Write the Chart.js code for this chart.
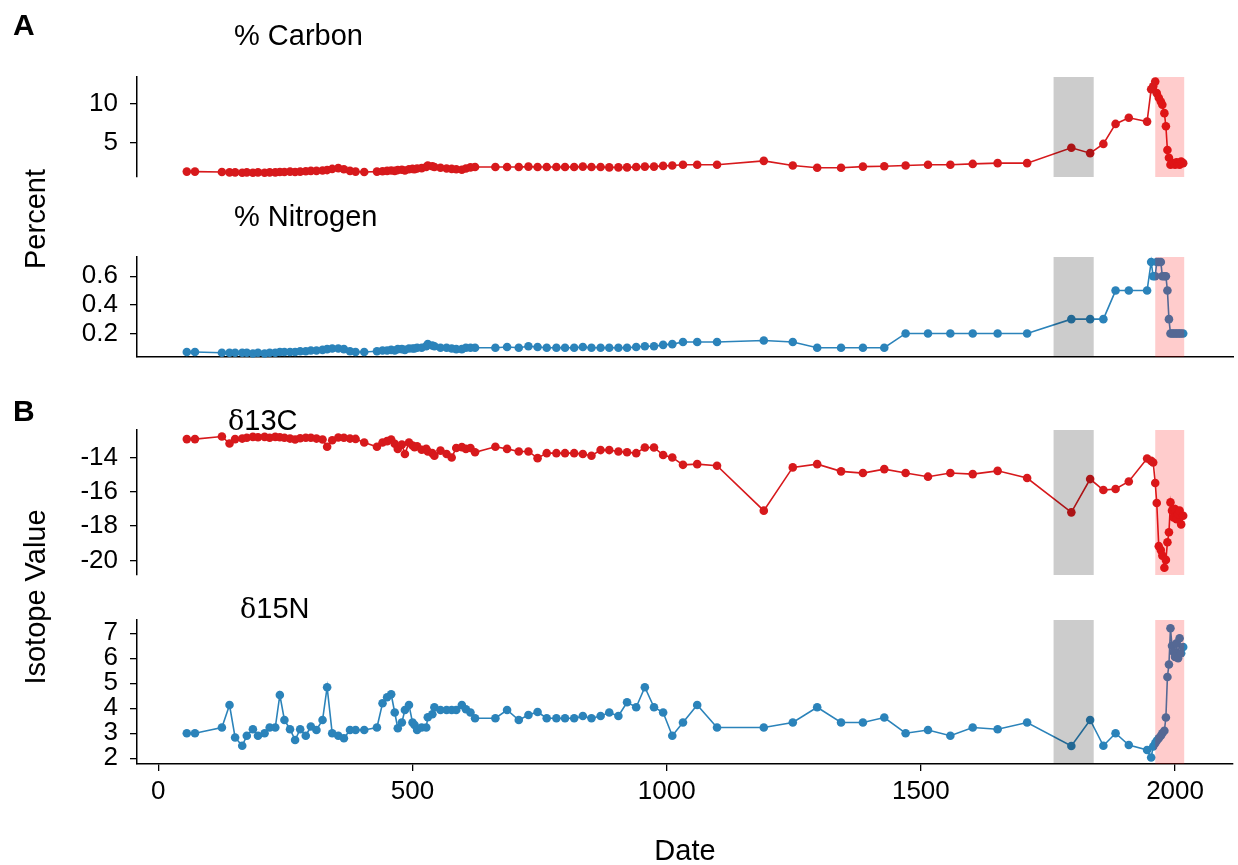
<!DOCTYPE html>
<html>
<head>
<meta charset="utf-8">
<script src="https://cdn.jsdelivr.net/npm/chart.js@4.4.1/dist/chart.umd.min.js"></script>
<style>
  body { margin: 0; background: #fff; }
  #wrap { position: relative; width: 1238px; height: 865px; font-family: "Liberation Sans", Arial, sans-serif; color: #000; }
  canvas { position: absolute; left: 0; top: 0; }
  .lbl { position: absolute; font-size: 29px; line-height: 29px; white-space: nowrap; }
  .tag { font-weight: bold; font-size: 30px; line-height: 30px; }
  .rot { transform: translate(-50%, -50%) rotate(-90deg); }
  .delta { font-family: "DejaVu Serif", "Liberation Serif", serif; font-size: 27px; }
</style>
</head>
<body>
<div id="wrap">
  <canvas id="c1" width="1238" height="865"></canvas>
  <canvas id="c2" width="1238" height="865"></canvas>
  <canvas id="c3" width="1238" height="865"></canvas>
  <canvas id="c4" width="1238" height="865"></canvas>

  <div class="lbl tag" style="left:13px; top:10px;">A</div>
  <div class="lbl tag" style="left:13px; top:396px;">B</div>
  <div class="lbl" style="left:234px; top:21px;">% Carbon</div>
  <div class="lbl" style="left:234px; top:202px;">% Nitrogen</div>
  <div class="lbl" style="left:228px; top:406px;"><span class="delta">δ</span>13C</div>
  <div class="lbl" style="left:240px; top:594px;"><span class="delta">δ</span>15N</div>
  <div class="lbl rot" style="left:35px; top:219px;">Percent</div>
  <div class="lbl rot" style="left:35px; top:597px;">Isotope Value</div>
  <div class="lbl" style="left:685px; top:836px; transform: translateX(-50%);">Date</div>
</div>
<script>
// sample dates (years)
const fechas = [56, 72, 125, 140, 151, 165, 174, 186, 196, 209, 219, 230, 239, 248, 259, 269, 279, 290, 300, 311,
  323, 332, 342, 354, 365, 377, 388, 405, 430, 441, 450, 458, 465, 471, 479, 485, 493, 500, 504, 509,
  518, 527, 530, 539, 543, 555, 567, 577, 586, 597, 605, 614, 623, 663, 686, 709, 728, 746, 764, 783,
  800, 818, 835, 852, 870, 887, 905, 922, 940, 957, 975, 993, 1011, 1032, 1060, 1099, 1191, 1248, 1296, 1343,
  1386, 1428, 1470, 1514, 1558, 1602, 1651, 1709, 1796, 1833, 1859, 1883, 1909,
  1945, 1953, 1957, 1961, 1964, 1968, 1972, 1975, 1979, 1982, 1985, 1988, 1991, 1994, 1997, 2000, 2003, 2006, 2009, 2012, 2016];

const carbono = [1.2, 1.2, 1.15, 1.1, 1.1, 1.05, 1.1, 1.05, 1.1, 1.05, 1.1, 1.1, 1.15, 1.15, 1.2, 1.15, 1.2, 1.25, 1.3, 1.3,
  1.35, 1.4, 1.55, 1.65, 1.5, 1.3, 1.2, 1.15, 1.2, 1.25, 1.3, 1.35, 1.3, 1.4, 1.45, 1.35, 1.5, 1.55, 1.5, 1.6,
  1.65, 1.8, 2.0, 1.9, 1.8, 1.7, 1.6, 1.55, 1.5, 1.45, 1.6, 1.75, 1.8, 1.8, 1.8, 1.8, 1.85, 1.8, 1.8, 1.8,
  1.8, 1.8, 1.85, 1.8, 1.8, 1.75, 1.75, 1.75, 1.8, 1.85, 1.85, 1.95, 2.0, 2.1, 2.1, 2.1, 2.6, 2.0, 1.7, 1.7,
  1.85, 1.9, 2.0, 2.1, 2.1, 2.2, 2.3, 2.3, 4.3, 3.6, 4.8, 7.4, 8.2,
  7.7, 11.9, 12.3, 12.9, 11.4, 10.8, 10.3, 9.9, 8.8, 7.1, 4.0, 3.0, 2.1, 2.2, 2.3, 2.1, 2.4, 2.2, 2.1, 2.5, 2.3];

const nitrogeno = [0.07, 0.07, 0.065, 0.065, 0.065, 0.065, 0.065, 0.06, 0.065, 0.06, 0.065, 0.065, 0.07, 0.07, 0.07, 0.07, 0.075, 0.075, 0.08, 0.08,
  0.085, 0.09, 0.095, 0.095, 0.09, 0.075, 0.07, 0.07, 0.075, 0.08, 0.08, 0.085, 0.08, 0.09, 0.09, 0.085, 0.095, 0.095, 0.095, 0.1,
  0.1, 0.11, 0.125, 0.115, 0.11, 0.1, 0.1, 0.095, 0.09, 0.09, 0.1, 0.1, 0.1, 0.1, 0.105, 0.1, 0.11, 0.105, 0.1, 0.1,
  0.1, 0.1, 0.105, 0.1, 0.1, 0.1, 0.1, 0.1, 0.105, 0.11, 0.11, 0.12, 0.125, 0.14, 0.14, 0.14, 0.15, 0.14, 0.1, 0.1,
  0.1, 0.1, 0.2, 0.2, 0.2, 0.2, 0.2, 0.2, 0.3, 0.3, 0.3, 0.5, 0.5,
  0.5, 0.7, 0.6, 0.6, 0.7, 0.7, 0.7, 0.6, 0.6, 0.6, 0.5, 0.3, 0.2, 0.2, 0.2, 0.2, 0.2, 0.2, 0.2, 0.2, 0.2];

const d13C = [-12.93, -12.93, -12.78, -13.19, -12.93, -12.9, -12.85, -12.8, -12.82, -12.8, -12.85, -12.8, -12.82, -12.85, -12.9, -12.95, -12.88, -12.85, -12.85, -12.9,
  -12.95, -13.38, -13.0, -12.84, -12.85, -12.9, -12.92, -13.13, -13.38, -13.13, -13.05, -12.95, -13.2, -13.5, -13.25, -13.8, -13.13, -13.3, -13.4, -13.35,
  -13.55, -13.5, -13.65, -13.75, -13.9, -13.6, -13.8, -14.0, -13.45, -13.4, -13.5, -13.45, -13.7, -13.38, -13.5, -13.65, -13.65, -14.04, -13.75, -13.75,
  -13.75, -13.75, -13.8, -13.9, -13.57, -13.57, -13.65, -13.7, -13.75, -13.42, -13.42, -13.86, -14.0, -14.43, -14.39, -14.48, -17.1, -14.58, -14.39, -14.81,
  -14.91, -14.68, -14.91, -15.12, -14.91, -14.97, -14.78, -15.2, -17.2, -15.26, -15.9, -15.84, -15.4,
  -14.06, -14.2, -14.29, -15.49, -16.65, -19.17, -19.4, -19.72, -20.43, -19.97, -18.94, -18.36, -16.62, -17.1, -17.5, -17.0, -17.6, -17.3, -17.1, -17.9, -17.4];

const d15N = [3.0, 3.0, 3.23, 4.13, 2.83, 2.5, 2.9, 3.16, 2.9, 3.0, 3.23, 3.23, 4.53, 3.53, 3.16, 2.73, 3.16, 2.9, 3.27, 3.13,
  3.53, 4.84, 3.0, 2.9, 2.8, 3.13, 3.13, 3.13, 3.23, 4.2, 4.44, 4.56, 3.83, 3.2, 3.43, 3.93, 4.13, 3.43, 3.33, 3.13,
  3.23, 3.23, 3.64, 3.76, 4.04, 3.93, 3.93, 3.93, 3.93, 4.13, 3.96, 3.83, 3.6, 3.6, 3.93, 3.53, 3.73, 3.85, 3.6, 3.6,
  3.6, 3.6, 3.69, 3.6, 3.69, 3.83, 3.69, 4.24, 4.04, 4.84, 4.04, 3.83, 2.9, 3.43, 4.13, 3.23, 3.23, 3.43, 4.04, 3.43,
  3.43, 3.63, 3.0, 3.13, 2.9, 3.23, 3.16, 3.43, 2.49, 3.53, 2.5, 3.0, 2.53,
  2.33, 2.03, 2.47, 2.6, 2.7, 2.8, 2.9, 3.0, 3.1, 3.63, 5.25, 5.75, 7.2, 6.5, 6.25, 6.05, 6.6, 6.0, 6.8, 6.2, 6.45];

// shaded periods
const bandaGris = [1761, 1840];
const bandaRosa = [1961, 2018];

const xTicks = [0, 500, 1000, 1500, 2000];
const rojo = '#d7191c';
const azul = '#2b83ba';

Chart.defaults.font.family = '"Liberation Sans", Arial, sans-serif';
Chart.defaults.font.size = 26;
Chart.defaults.color = '#000';

const bandas = {
  id: 'bandas',
  afterDatasetsDraw(chart) {
    const { ctx, chartArea, scales } = chart;
    const alto = chartArea.bottom - chartArea.top;
    ctx.save();
    let a = scales.x.getPixelForValue(bandaGris[0]);
    let b = scales.x.getPixelForValue(bandaGris[1]);
    ctx.fillStyle = 'rgba(0,0,0,0.2)';
    ctx.fillRect(a, chartArea.top, b - a, alto);
    a = scales.x.getPixelForValue(bandaRosa[0]);
    b = scales.x.getPixelForValue(bandaRosa[1]);
    ctx.fillStyle = 'rgba(255,0,0,0.2)';
    ctx.fillRect(a, chartArea.top, b - a, alto);
    ctx.restore();
  }
};

function crearPanel(canvas, valores, color, yMin, yMax, yTicks, top, bottom, ejeX) {
  const ctx = document.getElementById(canvas).getContext('2d');
  const puntos = fechas.map((f, i) => ({ x: f, y: valores[i] }));
  let xScale = { type: 'linear', min: -42, max: 2114, display: false };
  if (ejeX === 'line') {
    xScale = {
      type: 'linear', min: -42, max: 2114,
      ticks: { display: false },
      grid: { display: false },
      border: { display: true, color: '#000', width: 1.5 },
      afterFit: (s) => { s.height = 0; }
    };
  }
  if (ejeX === 'full') {
    xScale = {
      type: 'linear', min: -42, max: 2114,
      afterBuildTicks: (s) => { s.ticks = xTicks.map(v => ({ value: v })); },
      ticks: { padding: 5, maxRotation: 0, autoSkip: false, callback: (v) => String(v) },
      grid: { drawOnChartArea: false, drawTicks: true, tickLength: 7, color: '#000', lineWidth: 1.3 },
      border: { display: true, color: '#000', width: 1.5 },
      afterFit: (s) => { s.height = 865 - bottom; }
    };
  }
  new Chart(ctx, {
    type: 'line',
    data: {
      datasets: [{
        data: puntos,
        borderColor: color,
        backgroundColor: color,
        borderWidth: 1.6,
        pointRadius: 4.3,
        pointBorderWidth: 0,
        pointBackgroundColor: color,
        tension: 0,
        clip: false
      }]
    },
    options: {
      responsive: false,
      animation: false,
      devicePixelRatio: 1,
      events: [],
      layout: { padding: { top: top, bottom: ejeX === 'full' ? 0 : 865 - bottom, left: 0, right: 5 } },
      plugins: { legend: { display: false }, tooltip: { enabled: false } },
      scales: {
        x: xScale,
        y: {
          type: 'linear', min: yMin, max: yMax,
          afterBuildTicks: (s) => { s.ticks = yTicks.map(v => ({ value: v })); },
          afterFit: (s) => { s.width = 137; },
          ticks: { padding: 12, autoSkip: false, callback: (v) => String(v) },
          grid: { drawOnChartArea: false, drawTicks: true, tickLength: 7, color: '#000', lineWidth: 1.3 },
          border: { display: true, color: '#000', width: 1.5 }
        }
      }
    },
    plugins: [bandas]
  });
}

crearPanel('c1', carbono, rojo, 0.5, 13.5, [5, 10], 77, 177, 'none');
crearPanel('c2', nitrogeno, azul, 0.035, 0.735, [0.2, 0.4, 0.6], 257, 357, 'line');
crearPanel('c3', d13C, rojo, -20.85, -12.4, [-20, -18, -16, -14], 430, 575, 'none');
crearPanel('c4', d15N, azul, 1.77, 7.53, [2, 3, 4, 5, 6, 7], 620, 764, 'full');
</script>
</body>
</html>
